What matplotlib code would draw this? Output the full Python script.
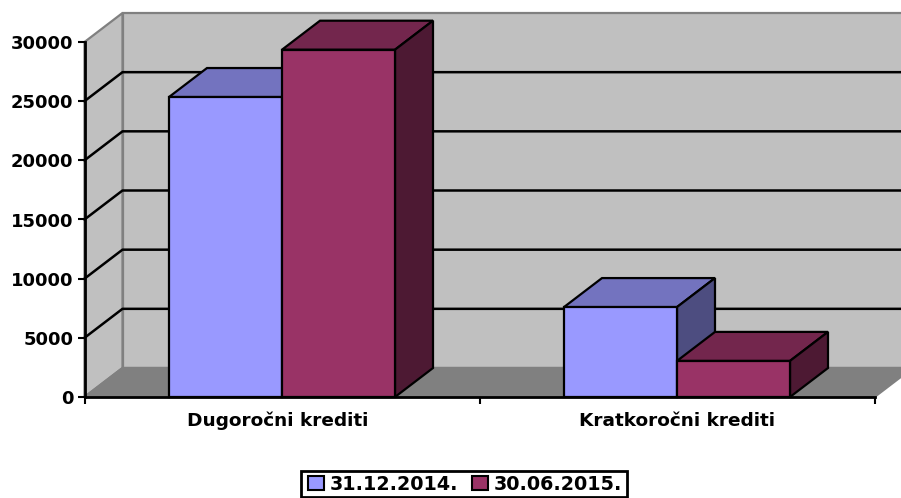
import matplotlib
matplotlib.use("Agg")
import matplotlib.pyplot as plt
from matplotlib.patches import Polygon, Patch, Rectangle

kategorije = ["Dugoročni krediti", "Kratkoročni krediti"]
serije = ["31.12.2014.", "30.06.2015."]
vrijednosti_2014 = [25350, 7600]
vrijednosti_2015 = [29350, 3050]
y_oznake = [0, 5000, 10000, 15000, 20000, 25000, 30000]

boje_front = ["#9999FF", "#993366"]
boje_top = ["#7373BF", "#73264D"]
boje_side = ["#4D4D80", "#4D1933"]

W, H = 901, 498
X0, X1, Y0, Y1 = 84.5, 874.5, 397, 42
fig = plt.figure(figsize=(W / 100, H / 100), dpi=100)
ax = fig.add_axes([X0 / W, 1 - Y0 / H, (X1 - X0) / W, (Y0 - Y1) / H])
ax.set_xlim(0, 2)
ax.set_ylim(0, 30000)
ax.patch.set_visible(False)

# dubina 3D prikaza u jedinicama osi
dx = 38 / ((X1 - X0) / 2)
dy = 29 / ((Y0 - Y1) / 30000)
sirina = 113 / ((X1 - X0) / 2)
lw = 1.6


def poly(tocke, boja, ec="black", z=2, lw=lw):
    ax.add_patch(Polygon(tocke, closed=True, facecolor=boja, edgecolor=ec, lw=lw,
                         zorder=z, clip_on=False, joinstyle="miter"))


# zidovi i pod
poly([(dx, dy), (2.2, dy), (2.2, 30000 + dy), (dx, 30000 + dy)], "#C0C0C0", "#808080", 1)
poly([(0, 0), (dx, dy), (dx, 30000 + dy), (0, 30000)], "#C0C0C0", "#808080", 1)
poly([(0, 0), (2, 0), (2 + dx, dy), (dx, dy)], "#808080", "#808080", 1.1)

for v in y_oznake[1:-1]:
    ax.plot([0, dx, 2.2], [v, v + dy, v + dy], color="black", lw=1.8, zorder=1.5, clip_on=False)


def stupac(x, v, i):
    poly([(x, v), (x + sirina, v), (x + sirina + dx, v + dy), (x + dx, v + dy)], boje_top[i])
    poly([(x + sirina, 0), (x + sirina + dx, dy), (x + sirina + dx, v + dy), (x + sirina, v)], boje_side[i])
    poly([(x, 0), (x + sirina, 0), (x + sirina, v), (x, v)], boje_front[i])


for k in range(len(kategorije)):
    c = k + 0.5
    stupac(c - sirina, vrijednosti_2014[k], 0)
    stupac(c, vrijednosti_2015[k], 1)

for s in ["top", "right"]:
    ax.spines[s].set_visible(False)
for s in ["left", "bottom"]:
    ax.spines[s].set_linewidth(2)
    ax.spines[s].set_zorder(3)

ax.set_yticks(y_oznake)
ax.set_xticks([0, 1, 2])
ax.set_xticklabels([])
ax.tick_params(axis="both", length=5, width=1.5, color="black")
ax.tick_params(axis="y", labelsize=13, pad=3)
for t in ax.get_yticklabels():
    t.set_fontweight("bold")

for k, (naziv, pomak) in enumerate(zip(kategorije, [-3, 0])):
    ax.annotate(naziv, (k + 0.5, 0), xytext=(pomak, -17), textcoords="offset points", ha="center", va="center",
                fontsize=13.3, fontweight="bold", annotation_clip=False)

# okvir legende posebno, jer je razmak lijevo veci nego gore
fig.add_artist(Rectangle((301 / W, 1.5 / H), 326 / W, 25.5 / H, transform=fig.transFigure,
                         facecolor="white", edgecolor="black", lw=2))

ruke = [Patch(facecolor=boje_front[i], edgecolor="black", lw=1.5, label=serije[i]) for i in range(2)]
leg = fig.legend(handles=ruke, ncol=2, loc="lower left", bbox_to_anchor=(306 / W, 2 / H),
                 borderaxespad=0, frameon=False,
                 prop={"weight": "bold", "size": 13.8}, handlelength=0.8, handleheight=0.8,
                 handletextpad=0.3, columnspacing=0.75, borderpad=0.12)

fig.savefig("out.png", dpi=100)
